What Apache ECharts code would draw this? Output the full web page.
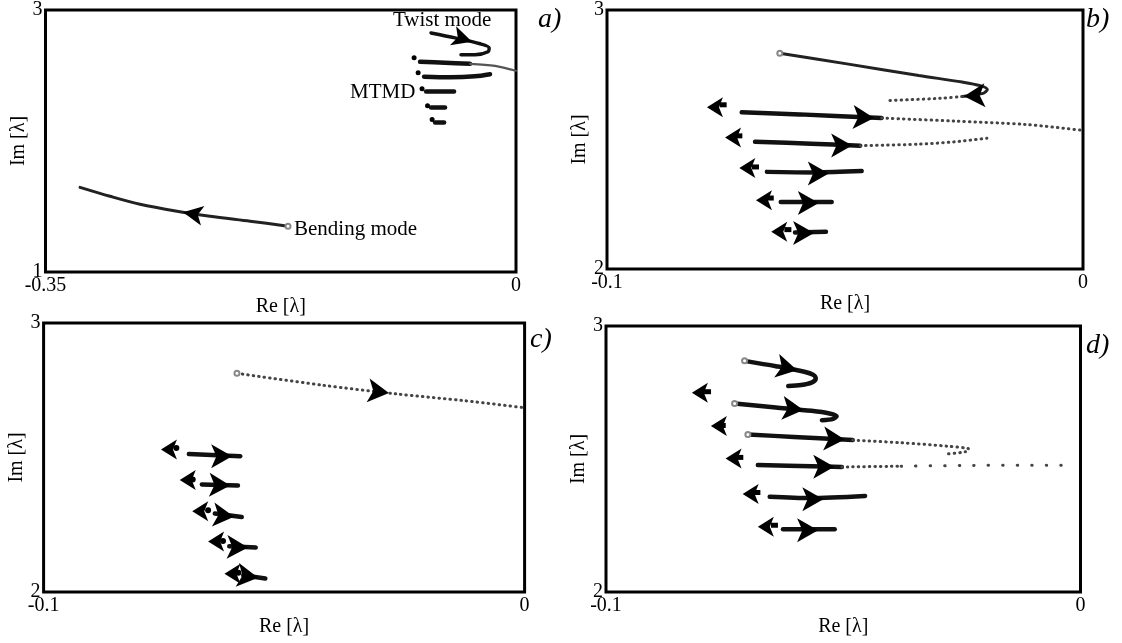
<!DOCTYPE html>
<html lang="en">
<head>
<meta charset="UTF-8">
<title>Root locus</title>
<script src="https://cdn.jsdelivr.net/npm/echarts@6/dist/echarts.min.js"></script>
<style>
html,body{margin:0;padding:0;background:#fff;}
#main{width:1122px;height:643px;}
</style>
</head>
<body>
<div id="main"></div>
<script>
// axis ranges of the four panels a), b), c), d)
var xMins = [-0.35, -0.1, -0.1, -0.1];
var yMins = [1, 2, 2, 2];
var xMax = 0, yMax = 3;
var panelNames = ['a)', 'b)', 'c)', 'd)'];

// panel a
var aBending = [[-0.3243,1.646],[-0.302,1.578],[-0.2797,1.517],[-0.2522,1.464],[-0.2276,1.426],[-0.1978,1.388],[-0.1696,1.350]];
var aTwist = [[-0.0632,2.825],[-0.0453,2.787],[-0.0267,2.742],[-0.0200,2.711],[-0.0208,2.681],[-0.0305,2.658],[-0.0409,2.658]];
var aMtmd = [
  [[-0.0714,2.605],[-0.0528,2.597],[-0.0342,2.589]],
  [[-0.0684,2.491],[-0.0490,2.487],[-0.0305,2.494],[-0.0193,2.510]],
  [[-0.0669,2.377],[-0.0461,2.377]],
  [[-0.0632,2.255],[-0.0528,2.255]],
  [[-0.0602,2.141],[-0.0535,2.141]]
];
var aMtmdTail = [[-0.0342,2.589],[-0.0156,2.574],[0,2.536]];
var aDots = [[-0.0758,2.635],[-0.0728,2.521],[-0.0699,2.399],[-0.0658,2.270],[-0.0624,2.164]];
var aArrows = [[-0.2477,1.456,170],[-0.0327,2.757,-18]];
var aStarts = [[-0.1696,1.350]];

// panel b
var bTwist = [[-0.0637,2.833],[-0.0496,2.792],[-0.0345,2.747],[-0.0254,2.722],[-0.0216,2.708],[-0.0201,2.693],[-0.0210,2.678],[-0.0254,2.666]];
var bTwistTail = [[-0.0254,2.666],[-0.0300,2.659],[-0.0413,2.650]];
var bThick = [
  [[-0.0717,2.605],[-0.0595,2.597],[-0.0423,2.583]],
  [[-0.0689,2.491],[-0.0571,2.484],[-0.0468,2.476]],
  [[-0.0664,2.375],[-0.0563,2.373],[-0.0465,2.378]],
  [[-0.0635,2.259],[-0.0528,2.259]],
  [[-0.0605,2.141],[-0.0540,2.144]]
];
var bDotted = [
  [[-0.0423,2.583],[-0.0270,2.571],[-0.0120,2.558],[0,2.535]],
  [[-0.0468,2.476],[-0.0345,2.482],[-0.0270,2.491],[-0.0202,2.505]]
];
var bDots = [[-0.0756,2.634],[-0.0723,2.514],[-0.0688,2.394],[-0.0657,2.274],[-0.0620,2.152]];
var bArrows = [[-0.0439,2.583,-3],[-0.0485,2.477,0],[-0.0534,2.369,0],[-0.0555,2.255,0],[-0.0565,2.139,0],[-0.0250,2.667,183]];
var bBack = [[-0.0790,2.625],[-0.0752,2.508],[-0.0722,2.390],[-0.0687,2.265],[-0.0655,2.144]];
var bStarts = [[-0.0637,2.833]];

// panel c
var cTop = [[-0.0598,2.813],[-0.0421,2.769],[-0.0265,2.736],[-0.0124,2.711],[0,2.685]];
var cThick = [
  [[-0.0698,2.513],[-0.0591,2.505]],
  [[-0.0671,2.400],[-0.0596,2.396]],
  [[-0.0644,2.292],[-0.0588,2.279]],
  [[-0.0614,2.170],[-0.0559,2.165]],
  [[-0.0585,2.062],[-0.0539,2.050]]
];
var cDots = [[-0.0724,2.535],[-0.0690,2.418],[-0.0658,2.304],[-0.0627,2.190],[-0.0595,2.072]];
var cArrows = [[-0.0282,2.740,-7],[-0.0608,2.505,0],[-0.0612,2.396,-2],[-0.0604,2.280,-6],[-0.0575,2.165,-2],[-0.0554,2.053,-8]];
var cBack = [[-0.0756,2.530],[-0.0717,2.416],[-0.0691,2.300],[-0.0658,2.188],[-0.0624,2.068]];
var cStarts = [[-0.0598,2.813]];

// panel d
var dThick = [
  [[-0.0708,2.869],[-0.0642,2.849],[-0.0582,2.828],[-0.0563,2.816],[-0.0558,2.802],[-0.0567,2.787],[-0.0589,2.778],[-0.0616,2.774]],
  [[-0.0729,2.709],[-0.0642,2.694],[-0.0567,2.681],[-0.0529,2.671],[-0.0514,2.661],[-0.0521,2.651],[-0.0545,2.646]],
  [[-0.0701,2.592],[-0.0604,2.583],[-0.0480,2.571]],
  [[-0.0680,2.477],[-0.0567,2.473],[-0.0503,2.470]],
  [[-0.0655,2.358],[-0.0570,2.353],[-0.0454,2.361]],
  [[-0.0627,2.236],[-0.0518,2.236]]
];
var dThin = [[-0.0480,2.571],[-0.0378,2.561],[-0.0280,2.548],[-0.0235,2.537],[-0.0243,2.527],[-0.0288,2.518]];
var dDotted = [[-0.0503,2.470],[-0.0378,2.473]];
var dSparse = [[-0.0378,2.473],[-0.0227,2.476],[-0.0020,2.477]];
var dDots = [[-0.0786,2.753],[-0.0755,2.626],[-0.0718,2.506],[-0.0682,2.374],[-0.0645,2.251]];
var dArrows = [[-0.0597,2.834,-12],[-0.0584,2.684,-6],[-0.0497,2.573,-3],[-0.0519,2.471,0],[-0.0542,2.349,0],[-0.0553,2.232,0]];
var dBack = [[-0.0819,2.749],[-0.0779,2.624],[-0.0748,2.502],[-0.0712,2.368],[-0.0680,2.245]];
var dStarts = [[-0.0708,2.869],[-0.0729,2.709],[-0.0701,2.592]];

var font = '"Liberation Serif", "DejaVu Serif", serif';
var grids = [
  {left: 45.5, top: 9, width: 470.5, height: 263},
  {left: 607, top: 5, width: 476, height: 264},
  {left: 43.6, top: 323, width: 481, height: 269},
  {left: 606, top: 326, width: 474.5, height: 266}
];

var thick = {color: '#111', width: 4.5, cap: 'round'};
var medium = {color: '#222', width: 3, cap: 'round'};
var thin = {color: '#555', width: 2.2, cap: 'round'};
var dotted = {color: '#444', width: 3, type: [0.5, 5], cap: 'round'};
var sparse = {color: '#444', width: 3, type: [0.5, 14], cap: 'round'};
var bigArrow = [18, 21];
var smallArrow = [15, 16];

var series = [];
function addLines(p, paths, style) {
  paths.forEach(function (pts) {
    series.push({
      type: 'line', xAxisIndex: p, yAxisIndex: p, data: pts,
      symbol: 'none', smooth: 0.3, silent: true, lineStyle: style, z: 2
    });
  });
}
function addArrows(p, list, size) {
  series.push({
    type: 'scatter', xAxisIndex: p, yAxisIndex: p, symbol: 'arrow', symbolSize: size,
    silent: true, z: 5, itemStyle: {color: '#000', opacity: 1},
    data: list.map(function (a) {
      var ang = a.length > 2 ? a[2] : 180;
      return {value: [a[0], a[1]], symbolRotate: ang - 90};
    })
  });
}
function addDots(p, list, sym, size, style) {
  series.push({
    type: 'scatter', xAxisIndex: p, yAxisIndex: p, symbol: sym, symbolSize: size,
    silent: true, z: 6, itemStyle: Object.assign({opacity: 1}, style), data: list
  });
}

// a)
addLines(0, [aBending], medium);
addLines(0, [aTwist], {color: '#111', width: 3.5, cap: 'round'});
addLines(0, aMtmd, thick);
addLines(0, [aMtmdTail], thin);
addDots(0, aDots, 'circle', 5, {color: '#000'});
addDots(0, aStarts, 'emptyCircle', 5, {color: '#888', borderWidth: 1});
addArrows(0, aArrows, [15, 20]);

// b)
addLines(1, [bTwist], medium);
addLines(1, [bTwistTail], dotted);
addLines(1, bThick, thick);
addLines(1, bDotted, dotted);
addDots(1, bDots, 'rect', [7, 5], {color: '#000'});
addDots(1, bStarts, 'emptyCircle', 5, {color: '#888', borderWidth: 1});
addArrows(1, bArrows, bigArrow);
addArrows(1, bBack, smallArrow);

// c)
addLines(2, [cTop], dotted);
addLines(2, cThick, thick);
addDots(2, cDots, 'circle', 6, {color: '#000'});
addDots(2, cStarts, 'emptyCircle', 5, {color: '#888', borderWidth: 1});
addArrows(2, cArrows, bigArrow);
addArrows(2, cBack, smallArrow);

// d)
addLines(3, dThick, thick);
addLines(3, [dThin], dotted);
addLines(3, [dDotted], dotted);
addLines(3, [dSparse], sparse);
addDots(3, dDots, 'rect', [7, 5], {color: '#000'});
addDots(3, dStarts, 'emptyCircle', 5, {color: '#888', borderWidth: 1});
addArrows(3, dArrows, bigArrow);
addArrows(3, dBack, smallArrow);

var labelStyle = {color: '#000', fontFamily: font, fontSize: 20};

var option = {
  animation: false,
  backgroundColor: '#fff',
  grid: grids.map(function (g) {
    return Object.assign({show: true, borderColor: '#000', borderWidth: 3, backgroundColor: 'transparent'}, g);
  }),
  xAxis: xMins.map(function (mn, i) {
    return {
      type: 'value', gridIndex: i, min: mn, max: xMax,
      name: 'Re [λ]', nameLocation: 'middle', nameGap: 23,
      nameTextStyle: {color: '#000', fontFamily: font, fontSize: 20},
      axisLine: {show: false}, axisTick: {show: false}, splitLine: {show: false},
      axisLabel: Object.assign({customValues: [mn, xMax], margin: 4}, labelStyle)
    };
  }),
  yAxis: yMins.map(function (mn, i) {
    return {
      type: 'value', gridIndex: i, min: mn, max: yMax,
      name: 'Im [λ]', nameLocation: 'middle', nameGap: 16,
      nameTextStyle: {color: '#000', fontFamily: font, fontSize: 20},
      axisLine: {show: false}, axisTick: {show: false}, splitLine: {show: false},
      axisLabel: Object.assign({customValues: [mn, yMax], margin: 3}, labelStyle)
    };
  }),
  graphic: [
    {type: 'text', left: 538, top: 6, style: {text: panelNames[0], font: 'italic 28px ' + font, fill: '#000'}},
    {type: 'text', left: 1086, top: 6, style: {text: panelNames[1], font: 'italic 28px ' + font, fill: '#000'}},
    {type: 'text', left: 530, top: 326, style: {text: panelNames[2], font: 'italic 28px ' + font, fill: '#000'}},
    {type: 'text', left: 1086, top: 332, style: {text: panelNames[3], font: 'italic 28px ' + font, fill: '#000'}},
    {type: 'text', left: 393, top: 10, style: {text: 'Twist mode', font: '21px ' + font, fill: '#000'}},
    {type: 'text', left: 350, top: 82, style: {text: 'MTMD', font: '21px ' + font, fill: '#000'}},
    {type: 'text', left: 294, top: 219, style: {text: 'Bending mode', font: '21px ' + font, fill: '#000'}}
  ],
  series: series
};

var chart = echarts.init(document.getElementById('main'));
chart.setOption(option);
</script>
</body>
</html>
